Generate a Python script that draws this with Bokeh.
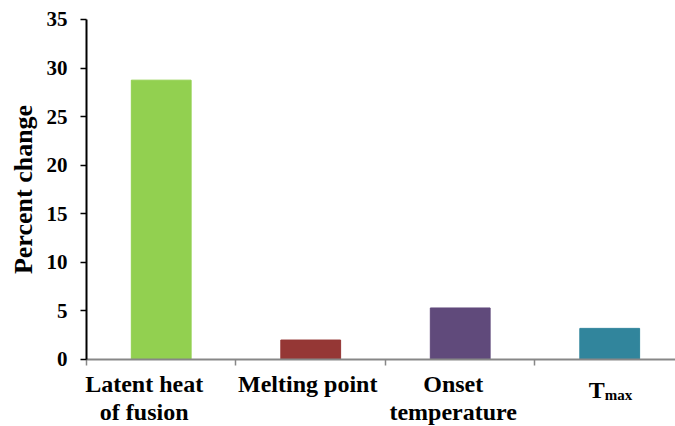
import math
from bokeh.plotting import figure
from bokeh.models import Range1d, FixedTicker, Label, ColumnDataSource
from bokeh.embed import file_html
from bokeh.resources import INLINE

categories = ["Latent heat\nof fusion", "Melting point", "Onset\ntemperature", "T"]
category_subscripts = ["", "", "", "max"]
values = [28.75, 2.0, 5.3, 3.2]
colors = ["#92D050", "#953735", "#604A7B", "#31859C"]
y_ticks = [0, 5, 10, 15, 20, 25, 30, 35]
y_title = "Percent change"

# label placement tweaks (screen px) to mimic the original's label layout
label_dx = [-17, -3, -7, -21]

FONT = "'Liberation Serif', serif"

xs = [i + 0.5 for i in range(len(categories))]
src = ColumnDataSource(dict(x=xs, top=values, color=colors))

p = figure(width=675, height=426, output_backend="svg", toolbar_location=None,
           x_range=Range1d(-0.575, len(categories) - 0.06), y_range=Range1d(-6.9, 36.95),
           min_border_left=0, min_border_right=0, min_border_top=0, min_border_bottom=0)
p.outline_line_color = None
p.xgrid.grid_line_color = None
p.ygrid.grid_line_color = None

p.vbar(x="x", top="top", width=0.4, bottom=0, color="color", source=src)

# y axis, fixed at x = 0
ya = p.yaxis[0]
ya.fixed_location = 0
ya.ticker = FixedTicker(ticks=y_ticks)
ya.bounds = (y_ticks[0], y_ticks[-1])
ya.axis_line_color = "black"
ya.axis_line_width = 2
ya.major_tick_line_color = "black"
ya.major_tick_line_width = 1.5
ya.major_tick_out = 6
ya.major_tick_in = 0
ya.minor_tick_line_color = None
ya.major_label_text_font = FONT
ya.major_label_text_font_style = "bold"
ya.major_label_text_font_size = "21px"
ya.major_label_text_color = "black"
ya.major_label_standoff = 13

p.add_layout(Label(x=0, y=(y_ticks[0] + y_ticks[-1]) / 2, x_offset=-63, text=y_title,
                   angle=math.pi / 2, text_font=FONT, text_font_style="bold",
                   text_font_size="26px", text_align="center", text_baseline="middle",
                   text_color="black"))

# x axis, fixed at y = 0
xa = p.xaxis[0]
xa.fixed_location = 0
xa.ticker = FixedTicker(ticks=[], minor_ticks=list(range(len(categories) + 1)))
xa.bounds = (0, len(categories))
xa.axis_line_color = "#878787"
xa.axis_line_width = 2
xa.major_tick_line_color = None
xa.minor_tick_line_color = "#878787"
xa.minor_tick_line_width = 1.5
xa.minor_tick_out = 6
xa.minor_tick_in = 0

# category labels
for x, name, sub, dx in zip(xs, categories, category_subscripts, label_dx):
    if sub:
        p.add_layout(Label(x=x, y=0, x_offset=dx, y_offset=-31, text=name, text_font=FONT,
                           text_font_style="bold", text_font_size="24px",
                           text_align="left", text_baseline="alphabetic", text_color="black"))
        p.add_layout(Label(x=x, y=0, x_offset=-5, y_offset=-36, text=sub, text_font=FONT,
                           text_font_style="bold", text_font_size="15px",
                           text_align="left", text_baseline="alphabetic", text_color="black"))
    else:
        p.add_layout(Label(x=x, y=0, x_offset=dx, y_offset=-12, text=name, text_font=FONT,
                           text_font_style="bold", text_font_size="24px",
                           text_line_height=1.06,
                           text_align="center", text_baseline="top", text_color="black"))

open("out.html", "w").write(file_html(p, INLINE))
